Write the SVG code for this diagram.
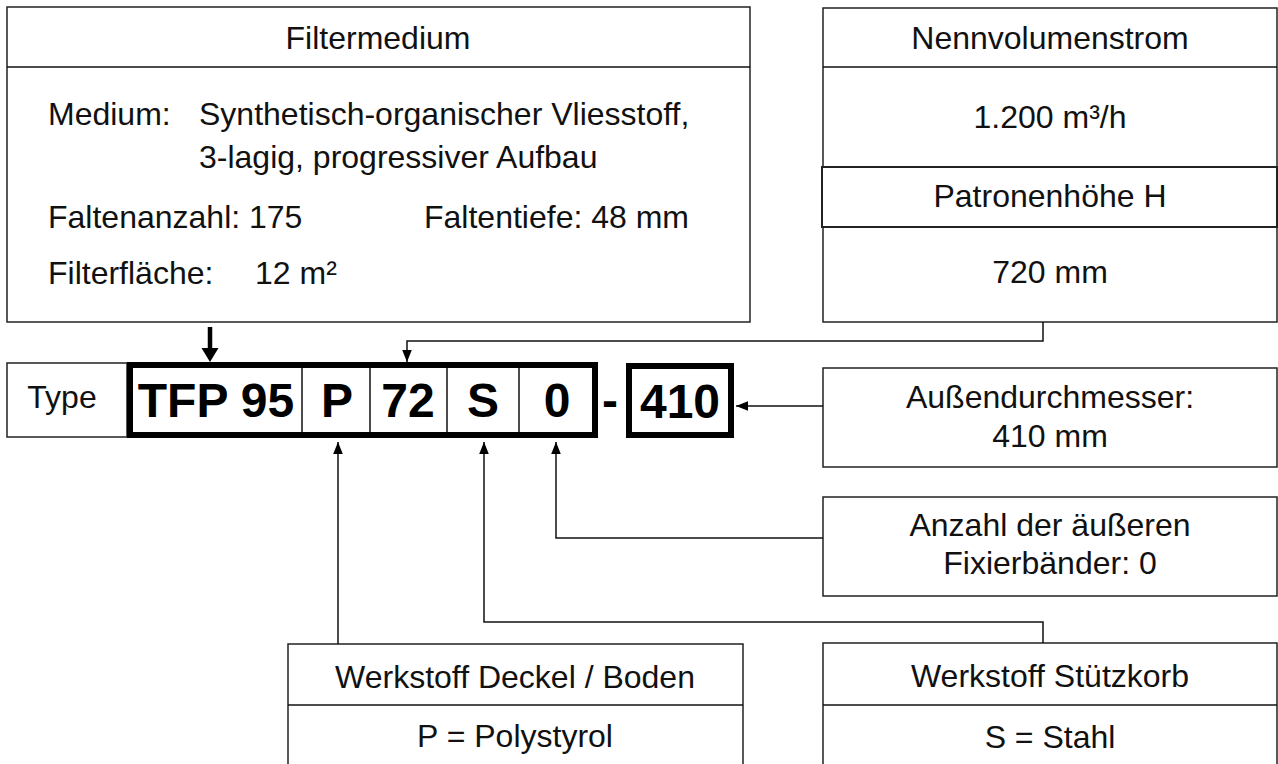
<svg xmlns="http://www.w3.org/2000/svg" width="1278" height="764" viewBox="0 0 1278 764">
<style>
.box{fill:#fff;stroke:#222;stroke-width:1.5}
.thick{fill:none;stroke:#000;stroke-width:6}
.ln{fill:none;stroke:#111;stroke-width:1.5}
.t{font-family:"Liberation Sans",Arial,sans-serif;font-size:32px;fill:#111}
.c{text-anchor:middle}
.b{font-family:"Liberation Sans",Arial,sans-serif;font-size:48px;font-weight:bold;fill:#000;text-anchor:middle}
</style>
<defs>
<marker id="ah" markerWidth="12" markerHeight="15" refX="15" refY="6" viewBox="0 0 15 12" orient="auto" markerUnits="userSpaceOnUse">
<path d="M0,0 L15,6 L0,12 z" fill="#000"/>
</marker>
</defs>
<rect width="1278" height="764" fill="#fff"/>

<g id="filtermedium">
<rect class="box" x="7" y="7" width="743" height="315"/>
<line class="ln" x1="7" y1="67" x2="750" y2="67"/>
<text class="t c" x="378" y="49">Filtermedium</text>
<text class="t" x="48" y="125">Medium:</text>
<text class="t" x="199" y="125">Synthetisch-organischer Vliesstoff,</text>
<text class="t" x="199" y="168">3-lagig, progressiver Aufbau</text>
<text class="t" x="48" y="228">Faltenanzahl: 175</text>
<text class="t" x="424" y="228">Faltentiefe: 48 mm</text>
<text class="t" x="48" y="284">Filterfläche:</text>
<text class="t" x="255" y="284">12 m²</text>
</g>

<g id="nennvolumenstrom">
<rect class="box" x="823" y="8" width="454" height="314"/>
<line class="ln" x1="823" y1="67" x2="1277" y2="67"/>
<text class="t c" x="1050" y="49">Nennvolumenstrom</text>
<text class="t c" x="1050" y="128">1.200 m³/h</text>
</g>

<g id="patronenhoehe">
<rect class="box" x="822" y="167" width="455" height="60" style="stroke-width:2"/>
<text class="t c" x="1050" y="207">Patronenhöhe H</text>
<text class="t c" x="1050" y="283">720 mm</text>
</g>

<g id="type">
<rect class="box" x="7" y="363" width="120" height="74"/>
<text class="t c" x="62" y="408">Type</text>
</g>

<g id="code">
<rect class="thick" x="130" y="365" width="465" height="70"/>
<line class="ln" x1="302" y1="368" x2="302" y2="432"/>
<line class="ln" x1="370" y1="368" x2="370" y2="432"/>
<line class="ln" x1="447" y1="368" x2="447" y2="432"/>
<line class="ln" x1="519" y1="368" x2="519" y2="432"/>
<text class="b" x="216" y="417">TFP 95</text>
<text class="b" x="337" y="417">P</text>
<text class="b" x="408" y="417">72</text>
<text class="b" x="483" y="417">S</text>
<text class="b" x="557" y="417">0</text>
<text class="b" x="610" y="417">-</text>
</g>

<g id="diameter-code">
<rect class="thick" x="629" y="366" width="102" height="69"/>
<text class="b" x="680" y="418">410</text>
</g>

<g id="aussendurchmesser">
<rect class="box" x="823" y="368" width="454" height="99"/>
<text class="t c" x="1050" y="408">Außendurchmesser:</text>
<text class="t c" x="1050" y="447">410 mm</text>
</g>

<g id="fixierbaender">
<rect class="box" x="823" y="497" width="454" height="99"/>
<text class="t c" x="1050" y="536">Anzahl der äußeren</text>
<text class="t c" x="1050" y="574">Fixierbänder: 0</text>
</g>

<g id="deckel-boden">
<rect class="box" x="288" y="644" width="455" height="130"/>
<line class="ln" x1="288" y1="705" x2="743" y2="705"/>
<text class="t c" x="515" y="688">Werkstoff Deckel / Boden</text>
<text class="t c" x="515" y="747">P = Polystyrol</text>
</g>

<g id="stuetzkorb">
<rect class="box" x="823" y="643" width="454" height="131"/>
<line class="ln" x1="823" y1="705" x2="1277" y2="705"/>
<text class="t c" x="1050" y="687">Werkstoff Stützkorb</text>
<text class="t c" x="1050" y="748">S = Stahl</text>
</g>

<g id="connectors">
<path d="M210,327 V349" stroke="#000" stroke-width="4.5" fill="none"/>
<path d="M201.5,348 L218.5,348 L210,362 z" fill="#000"/>
<path class="ln" d="M1043,322 V341 H407 V362" marker-end="url(#ah)"/>
<path class="ln" d="M823,406 H736" marker-end="url(#ah)"/>
<path class="ln" d="M823,538 H556 V442" marker-end="url(#ah)"/>
<path class="ln" d="M1043,643 V622 H484 V442" marker-end="url(#ah)"/>
<path class="ln" d="M338,644 V442" marker-end="url(#ah)"/>
</g>
</svg>
